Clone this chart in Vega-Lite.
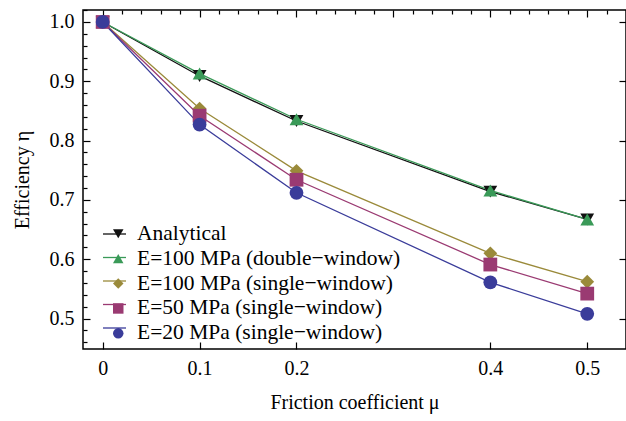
{
  "$schema": "https://vega.github.io/schema/vega-lite/v6.json",
  "autosize": "none",
  "width": 543,
  "height": 339,
  "padding": {"left": 83, "top": 10, "right": 0, "bottom": 72},
  "background": "white",
  "config": {
    "view": {"stroke": "black", "strokeWidth": 1.5},
    "font": "Liberation Serif",
    "axis": {"labelFont": "Liberation Serif", "titleFont": "Liberation Serif", "labelColor": "black", "titleColor": "black", "tickColor": "black", "domain": false, "grid": false, "titleFontWeight": "normal", "labelFontSize": 20, "titleFontSize": 20, "tickWidth": 1.2},
    "legend": {"labelFont": "Liberation Serif", "labelFontSize": 21.5, "labelColor": "black", "labelLimit": 400}
  },
  "data": {"values": [
    {"mu": 0, "eta": 1.0, "s": "Analytical"},
    {"mu": 0.1, "eta": 0.909, "s": "Analytical"},
    {"mu": 0.2, "eta": 0.833, "s": "Analytical"},
    {"mu": 0.4, "eta": 0.714, "s": "Analytical"},
    {"mu": 0.5, "eta": 0.667, "s": "Analytical"},
    {"mu": 0, "eta": 1.0, "s": "E=100 MPa (double−window)"},
    {"mu": 0.1, "eta": 0.913, "s": "E=100 MPa (double−window)"},
    {"mu": 0.2, "eta": 0.836, "s": "E=100 MPa (double−window)"},
    {"mu": 0.4, "eta": 0.716, "s": "E=100 MPa (double−window)"},
    {"mu": 0.5, "eta": 0.667, "s": "E=100 MPa (double−window)"},
    {"mu": 0, "eta": 1.0, "s": "E=100 MPa (single−window)"},
    {"mu": 0.1, "eta": 0.854, "s": "E=100 MPa (single−window)"},
    {"mu": 0.2, "eta": 0.749, "s": "E=100 MPa (single−window)"},
    {"mu": 0.4, "eta": 0.610, "s": "E=100 MPa (single−window)"},
    {"mu": 0.5, "eta": 0.562, "s": "E=100 MPa (single−window)"},
    {"mu": 0, "eta": 1.0, "s": "E=50 MPa (single−window)"},
    {"mu": 0.1, "eta": 0.842, "s": "E=50 MPa (single−window)"},
    {"mu": 0.2, "eta": 0.734, "s": "E=50 MPa (single−window)"},
    {"mu": 0.4, "eta": 0.591, "s": "E=50 MPa (single−window)"},
    {"mu": 0.5, "eta": 0.542, "s": "E=50 MPa (single−window)"},
    {"mu": 0, "eta": 1.0, "s": "E=20 MPa (single−window)"},
    {"mu": 0.1, "eta": 0.827, "s": "E=20 MPa (single−window)"},
    {"mu": 0.2, "eta": 0.712, "s": "E=20 MPa (single−window)"},
    {"mu": 0.4, "eta": 0.561, "s": "E=20 MPa (single−window)"},
    {"mu": 0.5, "eta": 0.508, "s": "E=20 MPa (single−window)"}
  ]},
  "resolve": {"axis": {"x": "independent", "y": "independent"}, "legend": {"color": "independent", "shape": "independent"}},
  "layer": [
    {
      "mark": {"type": "line", "strokeWidth": 1.3},
      "encoding": {
        "x": {"field": "mu", "type": "quantitative", "scale": {"domain": [-0.0203, 0.54], "nice": false, "zero": false},
          "axis": {"orient": "bottom", "values": [0, 0.1, 0.2, 0.4, 0.5], "tickSize": -7, "labelPadding": 16, "title": "Friction coefficient μ", "titlePadding": 14, "labelExpr": "datum.value == 0 ? '0' : format(datum.value, '.1f')"}},
        "y": {"field": "eta", "type": "quantitative", "scale": {"domain": [0.4486, 1.0202], "nice": false, "zero": false},
          "axis": {"orient": "left", "values": [0.5, 0.6, 0.7, 0.8, 0.9, 1.0], "format": ".1f", "tickSize": -7, "labelPadding": 16, "title": "Efficiency η", "titlePadding": 17}},
        "color": {"field": "s", "type": "nominal",
          "scale": {"domain": ["Analytical", "E=100 MPa (double−window)", "E=100 MPa (single−window)", "E=50 MPa (single−window)", "E=20 MPa (single−window)"],
                    "range": ["#111111", "#3a9a58", "#9a8a3a", "#9a3a72", "#3a3c9a"]},
          "legend": {"orient": "none", "legendX": 19, "legendY": 211.5, "title": null, "symbolType": "stroke", "symbolSize": 529, "symbolStrokeWidth": 1.3, "labelExpr": "''", "labelFontSize": 20, "rowPadding": 0.5, "padding": 0, "labelOffset": 0}}
      }
    },
    {
      "mark": {"type": "point", "filled": true, "opacity": 1, "size": 190},
      "encoding": {
        "x": {"field": "mu", "type": "quantitative", "axis": null},
        "y": {"field": "eta", "type": "quantitative", "axis": null},
        "color": {"field": "s", "type": "nominal", "legend": {"orient": "none", "legendX": 24.5, "legendY": 213, "title": null, "symbolSize": 110, "rowPadding": 1.9, "padding": 0, "labelOffset": 8}},
        "shape": {"field": "s", "type": "nominal",
          "scale": {"domain": ["Analytical", "E=100 MPa (double−window)", "E=100 MPa (single−window)", "E=50 MPa (single−window)", "E=20 MPa (single−window)"],
                    "range": ["triangle-down", "triangle-up", "diamond", "square", "circle"]},
          "legend": {"orient": "none", "legendX": 24.5, "legendY": 213, "title": null, "symbolSize": 110, "rowPadding": 1.9, "padding": 0, "labelOffset": 8}}
      }
    },
    {
      "mark": {"type": "point", "opacity": 0},
      "encoding": {
        "x": {"field": "mu", "type": "quantitative",
          "axis": {"orient": "top", "values": [0.02, 0.04, 0.06, 0.08, 0.12, 0.14, 0.16, 0.18, 0.22, 0.24, 0.26, 0.28, 0.32, 0.34, 0.36, 0.38, 0.42, 0.44, 0.46, 0.48, 0.52], "tickSize": -4, "labels": false, "title": null}},
        "y": {"field": "eta", "type": "quantitative",
          "axis": {"orient": "right", "values": [0.5, 0.6, 0.7, 0.8, 0.9, 1.0], "tickSize": -7, "labels": false, "title": null}}
      }
    },
    {
      "mark": {"type": "point", "opacity": 0},
      "encoding": {
        "x": {"field": "mu", "type": "quantitative",
          "axis": {"orient": "top", "values": [0, 0.1, 0.2, 0.3, 0.4, 0.5], "tickSize": -7, "labels": false, "title": null}},
        "y": {"field": "eta", "type": "quantitative",
          "axis": {"orient": "left", "values": [0.46, 0.48, 0.52, 0.54, 0.56, 0.58, 0.62, 0.64, 0.66, 0.68, 0.72, 0.74, 0.76, 0.78, 0.82, 0.84, 0.86, 0.88, 0.92, 0.94, 0.96, 0.98, 1.02], "tickSize": -4, "labels": false, "title": null}}
      }
    }
  ]
}
